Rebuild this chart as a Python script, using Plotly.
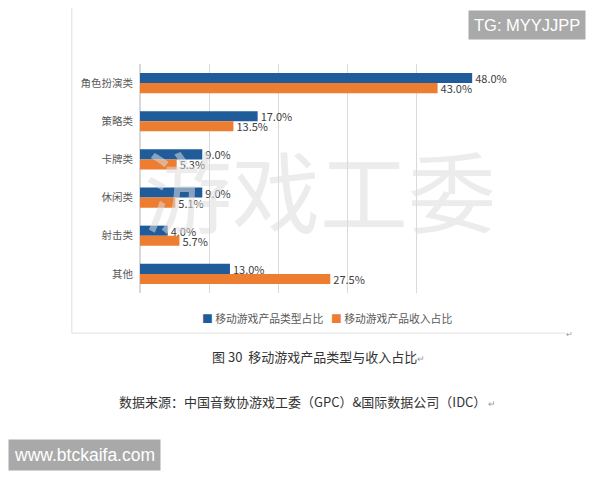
import plotly.graph_objects as go

categories = ["角色扮演类", "策略类", "卡牌类", "休闲类", "射击类", "其他"]
type_share = [48.0, 17.0, 9.0, 9.0, 4.0, 13.0]
revenue_share = [43.0, 13.5, 5.3, 5.1, 5.7, 27.5]
series_names = ["移动游戏产品类型占比", "移动游戏产品收入占比"]
colors = ["#1F5C99", "#ED7D31"]

FONT = "Noto Sans CJK SC, Microsoft YaHei, sans-serif"

fig = go.Figure()
for name, vals, col in zip(series_names, [type_share, revenue_share], colors):
    fig.add_trace(go.Bar(
        y=categories, x=vals, name=name, orientation="h",
        marker=dict(color=col, line=dict(width=0)),
        text=[f"{v:.1f}%" for v in vals], textposition="outside",
        constraintext="none",
        textfont=dict(size=11, color="#404040", family=FONT),
        cliponaxis=False,
    ))

# page body has an 8px margin, so the figure is 592x472 and shifted
fig.update_layout(
    width=592, height=472,
    margin=dict(l=132, r=114, t=56, b=187),
    paper_bgcolor="white", plot_bgcolor="white",
    barmode="group", bargap=0.47, bargroupgap=0,
    font=dict(family=FONT, color="#595959", size=11),
    showlegend=False,
    xaxis=dict(range=[0, 50], dtick=10, showticklabels=False, showgrid=True,
               gridcolor="#D9D9D9", gridwidth=1, zeroline=True, zerolinecolor="#D9D9D9",
               showline=False),
    yaxis=dict(autorange="reversed", showgrid=False, ticks="", ticklabelstandoff=6,
               tickfont=dict(size=10.5, color="#595959", family=FONT), showline=False),
)

# chart frame lines
fig.add_shape(type="line", xref="paper", yref="paper", x0=-0.197, x1=-0.197, y0=1.3, y1=-0.175,
              line=dict(color="#E0E0E0", width=1))
fig.add_shape(type="line", xref="paper", yref="paper", x0=-0.197, x1=1.23, y0=-0.175, y1=-0.175,
              line=dict(color="#E0E0E0", width=1))
fig.add_annotation(text="↵", xref="paper", yref="paper", x=1.24, y=-0.175, showarrow=False,
                   xanchor="center", yanchor="middle",
                   font=dict(size=8, color="#999999", family=FONT))

# legend (as text)
for name, col, xpos in zip(series_names, colors, [0.172, 0.545]):
    fig.add_annotation(text=f"<span style='color:{col}'>■</span> {name}",
                       xref="paper", yref="paper", x=xpos, y=-0.109,
                       xanchor="left", yanchor="middle",
                       showarrow=False, font=dict(size=10.8, color="#595959", family=FONT))

# watermark
fig.add_annotation(text="游戏工委", xref="paper", yref="paper", x=0.52, y=0.46,
                   xanchor="center", yanchor="middle",
                   showarrow=False, font=dict(size=88, color="rgba(220,220,220,0.55)", family=FONT))

# captions
fig.add_annotation(text="图 30  移动游戏产品类型与收入占比<span style='font-size:9px;color:#999'>↵</span>",
                   xref="paper", yref="paper", x=0.515, y=-0.279, showarrow=False,
                   xanchor="center", yanchor="middle",
                   font=dict(size=13, color="#333333", family=FONT))
fig.add_annotation(text="数据来源：中国音数协游戏工委（GPC）&国际数据公司（IDC）<span style='font-size:9px;color:#999'> ↵</span>",
                   xref="paper", yref="paper", x=0.485, y=-0.472, showarrow=False,
                   xanchor="center", yanchor="middle",
                   font=dict(size=13, color="#333333", family=FONT))

# site labels
fig.add_annotation(text="TG: MYYJJPP", xref="paper", yref="paper", x=1.119, y=1.17,
                   xanchor="center", yanchor="middle",
                   showarrow=False, bgcolor="#A9A9A9", borderpad=5,
                   font=dict(size=16.5, color="white", family="Liberation Sans, Arial"))
fig.add_annotation(text="www.btckaifa.com", xref="paper", yref="paper", x=-0.382, y=-0.707,
                   xanchor="left", yanchor="middle", showarrow=False, bgcolor="#A9A9A9", borderpad=5,
                   font=dict(size=17.5, color="white", family="Liberation Sans, Arial"))

fig.write_html("out.html")
